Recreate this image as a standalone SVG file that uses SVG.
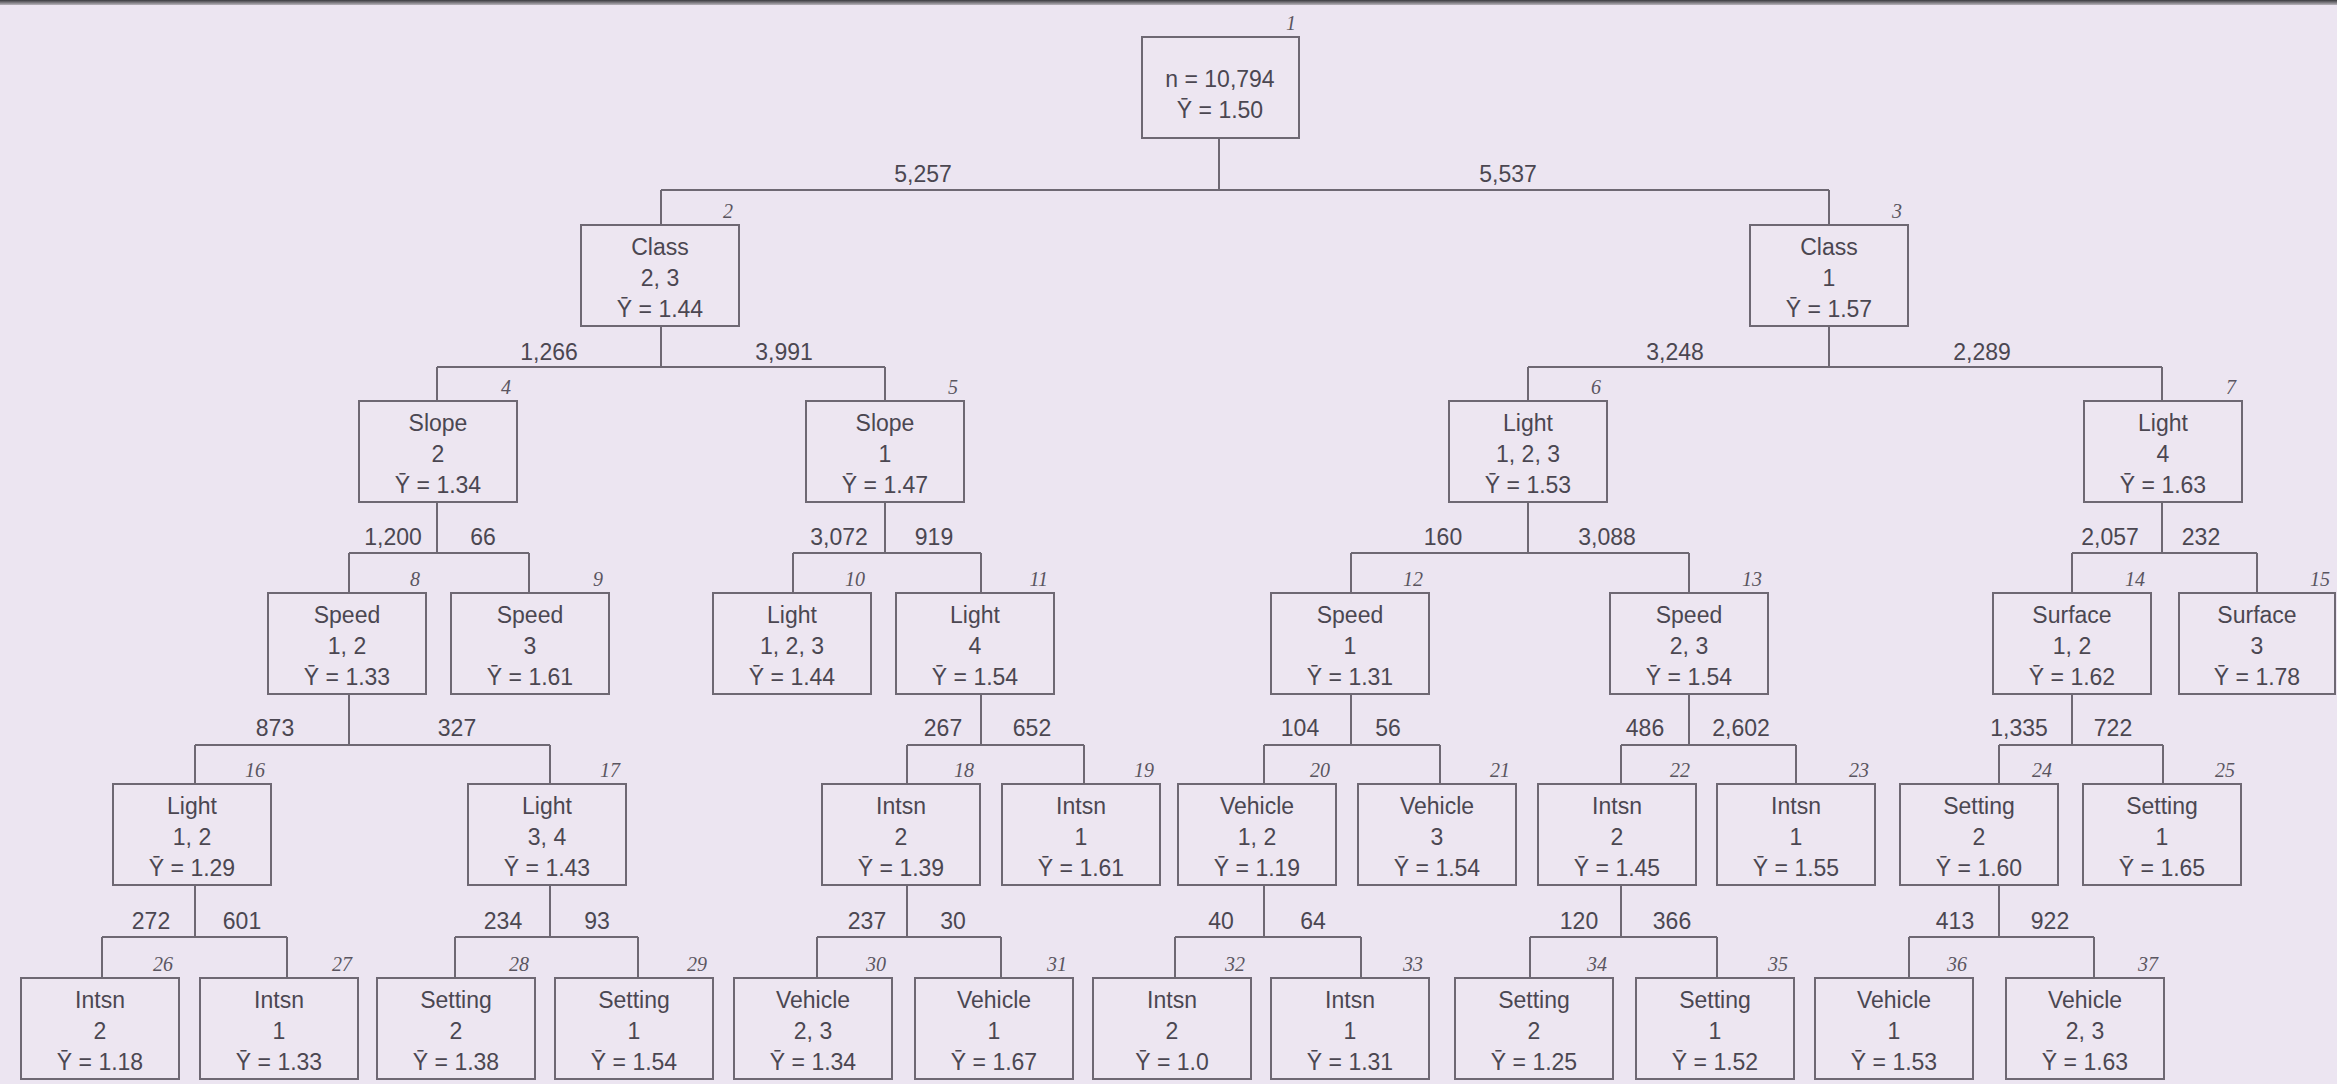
<svg xmlns="http://www.w3.org/2000/svg" width="2337" height="1084" viewBox="0 0 2337 1084">
<defs>
<style>
.bg{fill:#ece5f1}
.box{fill:#ede6f1;stroke:#6e6873;stroke-width:2}
.t{font-family:"Liberation Sans","DejaVu Sans",sans-serif;font-size:23px;fill:#4b4751;text-anchor:middle}
.num{font-family:"Liberation Serif","DejaVu Serif",serif;font-style:italic;font-size:20px;fill:#5a5560;text-anchor:end}
.lbl{font-family:"Liberation Sans","DejaVu Sans",sans-serif;font-size:23px;fill:#4b4751;text-anchor:middle}
.ln{fill:none;stroke:#6e6873;stroke-width:2}
</style>
<linearGradient id="topband" x1="0" y1="0" x2="0" y2="1">
<stop offset="0" stop-color="#3a3a3e"/>
<stop offset="1" stop-color="#b8b4bb"/>
</linearGradient>
</defs>
<rect class="bg" x="0" y="0" width="2337" height="1084"/>
<rect x="0" y="0" width="2337" height="5" fill="url(#topband)"/>

<g id="connectors">
<path class="ln" d="M1219,138V190M661,190H1829M661,190V225M1829,190V225"/>
<path class="ln" d="M661,326V367M437,367H885M437,367V401M885,367V401"/>
<path class="ln" d="M1829,326V367M1528,367H2162M1528,367V401M2162,367V401"/>
<path class="ln" d="M437,502V553M349,553H529M349,553V593M529,553V593"/>
<path class="ln" d="M885,502V553M793,553H981M793,553V593M981,553V593"/>
<path class="ln" d="M1528,502V553M1351,553H1689M1351,553V593M1689,553V593"/>
<path class="ln" d="M2162,502V553M2072,553H2257M2072,553V593M2257,553V593"/>
<path class="ln" d="M349,694V745M195,745H550M195,745V784M550,745V784"/>
<path class="ln" d="M981,694V745M907,745H1084M907,745V784M1084,745V784"/>
<path class="ln" d="M1351,694V745M1264,745H1440M1264,745V784M1440,745V784"/>
<path class="ln" d="M1689,694V745M1621,745H1796M1621,745V784M1796,745V784"/>
<path class="ln" d="M2072,694V745M1999,745H2163M1999,745V784M2163,745V784"/>
<path class="ln" d="M195,885V937M102,937H287M102,937V978M287,937V978"/>
<path class="ln" d="M550,885V937M455,937H638M455,937V978M638,937V978"/>
<path class="ln" d="M907,885V937M817,937H1001M817,937V978M1001,937V978"/>
<path class="ln" d="M1264,885V937M1175,937H1361M1175,937V978M1361,937V978"/>
<path class="ln" d="M1621,885V937M1530,937H1717M1530,937V978M1717,937V978"/>
<path class="ln" d="M1999,885V937M1909,937H2094M1909,937V978M2094,937V978"/>
<g id="branch-labels">
<text class="lbl" x="923" y="182">5,257</text>
<text class="lbl" x="1508" y="182">5,537</text>
<text class="lbl" x="549" y="360">1,266</text>
<text class="lbl" x="784" y="360">3,991</text>
<text class="lbl" x="1675" y="360">3,248</text>
<text class="lbl" x="1982" y="360">2,289</text>
<text class="lbl" x="393" y="545">1,200</text>
<text class="lbl" x="483" y="545">66</text>
<text class="lbl" x="839" y="545">3,072</text>
<text class="lbl" x="934" y="545">919</text>
<text class="lbl" x="1443" y="545">160</text>
<text class="lbl" x="1607" y="545">3,088</text>
<text class="lbl" x="2110" y="545">2,057</text>
<text class="lbl" x="2201" y="545">232</text>
<text class="lbl" x="275" y="736">873</text>
<text class="lbl" x="457" y="736">327</text>
<text class="lbl" x="943" y="736">267</text>
<text class="lbl" x="1032" y="736">652</text>
<text class="lbl" x="1300" y="736">104</text>
<text class="lbl" x="1388" y="736">56</text>
<text class="lbl" x="1645" y="736">486</text>
<text class="lbl" x="1741" y="736">2,602</text>
<text class="lbl" x="2019" y="736">1,335</text>
<text class="lbl" x="2113" y="736">722</text>
<text class="lbl" x="151" y="929">272</text>
<text class="lbl" x="242" y="929">601</text>
<text class="lbl" x="503" y="929">234</text>
<text class="lbl" x="597" y="929">93</text>
<text class="lbl" x="867" y="929">237</text>
<text class="lbl" x="953" y="929">30</text>
<text class="lbl" x="1221" y="929">40</text>
<text class="lbl" x="1313" y="929">64</text>
<text class="lbl" x="1579" y="929">120</text>
<text class="lbl" x="1672" y="929">366</text>
<text class="lbl" x="1955" y="929">413</text>
<text class="lbl" x="2050" y="929">922</text>
</g>
</g>

<g id="node1"><rect class="box" x="1142" y="37" width="157" height="101"/><text class="num" x="1296" y="30">1</text><text class="t" x="1220" y="87">n = 10,794</text><text class="t" x="1220" y="118">Ȳ = 1.50</text></g>

<g id="node2"><rect class="box" x="581" y="225" width="158" height="101"/><text class="num" x="733" y="218">2</text><text class="t" x="660" y="255">Class</text><text class="t" x="660" y="286">2, 3</text><text class="t" x="660" y="317">Ȳ = 1.44</text></g>
<g id="node3"><rect class="box" x="1750" y="225" width="158" height="101"/><text class="num" x="1902" y="218">3</text><text class="t" x="1829" y="255">Class</text><text class="t" x="1829" y="286">1</text><text class="t" x="1829" y="317">Ȳ = 1.57</text></g>

<g id="node4"><rect class="box" x="359" y="401" width="158" height="101"/><text class="num" x="511" y="394">4</text><text class="t" x="438" y="431">Slope</text><text class="t" x="438" y="462">2</text><text class="t" x="438" y="493">Ȳ = 1.34</text></g>
<g id="node5"><rect class="box" x="806" y="401" width="158" height="101"/><text class="num" x="958" y="394">5</text><text class="t" x="885" y="431">Slope</text><text class="t" x="885" y="462">1</text><text class="t" x="885" y="493">Ȳ = 1.47</text></g>
<g id="node6"><rect class="box" x="1449" y="401" width="158" height="101"/><text class="num" x="1601" y="394">6</text><text class="t" x="1528" y="431">Light</text><text class="t" x="1528" y="462">1, 2, 3</text><text class="t" x="1528" y="493">Ȳ = 1.53</text></g>
<g id="node7"><rect class="box" x="2084" y="401" width="158" height="101"/><text class="num" x="2236" y="394">7</text><text class="t" x="2163" y="431">Light</text><text class="t" x="2163" y="462">4</text><text class="t" x="2163" y="493">Ȳ = 1.63</text></g>

<g id="node8"><rect class="box" x="268" y="593" width="158" height="101"/><text class="num" x="420" y="586">8</text><text class="t" x="347" y="623">Speed</text><text class="t" x="347" y="654">1, 2</text><text class="t" x="347" y="685">Ȳ = 1.33</text></g>
<g id="node9"><rect class="box" x="451" y="593" width="158" height="101"/><text class="num" x="603" y="586">9</text><text class="t" x="530" y="623">Speed</text><text class="t" x="530" y="654">3</text><text class="t" x="530" y="685">Ȳ = 1.61</text></g>
<g id="node10"><rect class="box" x="713" y="593" width="158" height="101"/><text class="num" x="865" y="586">10</text><text class="t" x="792" y="623">Light</text><text class="t" x="792" y="654">1, 2, 3</text><text class="t" x="792" y="685">Ȳ = 1.44</text></g>
<g id="node11"><rect class="box" x="896" y="593" width="158" height="101"/><text class="num" x="1048" y="586">11</text><text class="t" x="975" y="623">Light</text><text class="t" x="975" y="654">4</text><text class="t" x="975" y="685">Ȳ = 1.54</text></g>
<g id="node12"><rect class="box" x="1271" y="593" width="158" height="101"/><text class="num" x="1423" y="586">12</text><text class="t" x="1350" y="623">Speed</text><text class="t" x="1350" y="654">1</text><text class="t" x="1350" y="685">Ȳ = 1.31</text></g>
<g id="node13"><rect class="box" x="1610" y="593" width="158" height="101"/><text class="num" x="1762" y="586">13</text><text class="t" x="1689" y="623">Speed</text><text class="t" x="1689" y="654">2, 3</text><text class="t" x="1689" y="685">Ȳ = 1.54</text></g>
<g id="node14"><rect class="box" x="1993" y="593" width="158" height="101"/><text class="num" x="2145" y="586">14</text><text class="t" x="2072" y="623">Surface</text><text class="t" x="2072" y="654">1, 2</text><text class="t" x="2072" y="685">Ȳ = 1.62</text></g>
<g id="node15"><rect class="box" x="2179" y="593" width="156" height="101"/><text class="num" x="2330" y="586">15</text><text class="t" x="2257" y="623">Surface</text><text class="t" x="2257" y="654">3</text><text class="t" x="2257" y="685">Ȳ = 1.78</text></g>

<g id="node16"><rect class="box" x="113" y="784" width="158" height="101"/><text class="num" x="265" y="777">16</text><text class="t" x="192" y="814">Light</text><text class="t" x="192" y="845">1, 2</text><text class="t" x="192" y="876">Ȳ = 1.29</text></g>
<g id="node17"><rect class="box" x="468" y="784" width="158" height="101"/><text class="num" x="620" y="777">17</text><text class="t" x="547" y="814">Light</text><text class="t" x="547" y="845">3, 4</text><text class="t" x="547" y="876">Ȳ = 1.43</text></g>
<g id="node18"><rect class="box" x="822" y="784" width="158" height="101"/><text class="num" x="974" y="777">18</text><text class="t" x="901" y="814">Intsn</text><text class="t" x="901" y="845">2</text><text class="t" x="901" y="876">Ȳ = 1.39</text></g>
<g id="node19"><rect class="box" x="1002" y="784" width="158" height="101"/><text class="num" x="1154" y="777">19</text><text class="t" x="1081" y="814">Intsn</text><text class="t" x="1081" y="845">1</text><text class="t" x="1081" y="876">Ȳ = 1.61</text></g>
<g id="node20"><rect class="box" x="1178" y="784" width="158" height="101"/><text class="num" x="1330" y="777">20</text><text class="t" x="1257" y="814">Vehicle</text><text class="t" x="1257" y="845">1, 2</text><text class="t" x="1257" y="876">Ȳ = 1.19</text></g>
<g id="node21"><rect class="box" x="1358" y="784" width="158" height="101"/><text class="num" x="1510" y="777">21</text><text class="t" x="1437" y="814">Vehicle</text><text class="t" x="1437" y="845">3</text><text class="t" x="1437" y="876">Ȳ = 1.54</text></g>
<g id="node22"><rect class="box" x="1538" y="784" width="158" height="101"/><text class="num" x="1690" y="777">22</text><text class="t" x="1617" y="814">Intsn</text><text class="t" x="1617" y="845">2</text><text class="t" x="1617" y="876">Ȳ = 1.45</text></g>
<g id="node23"><rect class="box" x="1717" y="784" width="158" height="101"/><text class="num" x="1869" y="777">23</text><text class="t" x="1796" y="814">Intsn</text><text class="t" x="1796" y="845">1</text><text class="t" x="1796" y="876">Ȳ = 1.55</text></g>
<g id="node24"><rect class="box" x="1900" y="784" width="158" height="101"/><text class="num" x="2052" y="777">24</text><text class="t" x="1979" y="814">Setting</text><text class="t" x="1979" y="845">2</text><text class="t" x="1979" y="876">Ȳ = 1.60</text></g>
<g id="node25"><rect class="box" x="2083" y="784" width="158" height="101"/><text class="num" x="2235" y="777">25</text><text class="t" x="2162" y="814">Setting</text><text class="t" x="2162" y="845">1</text><text class="t" x="2162" y="876">Ȳ = 1.65</text></g>

<g id="node26"><rect class="box" x="21" y="978" width="158" height="101"/><text class="num" x="173" y="971">26</text><text class="t" x="100" y="1008">Intsn</text><text class="t" x="100" y="1039">2</text><text class="t" x="100" y="1070">Ȳ = 1.18</text></g>
<g id="node27"><rect class="box" x="200" y="978" width="158" height="101"/><text class="num" x="352" y="971">27</text><text class="t" x="279" y="1008">Intsn</text><text class="t" x="279" y="1039">1</text><text class="t" x="279" y="1070">Ȳ = 1.33</text></g>
<g id="node28"><rect class="box" x="377" y="978" width="158" height="101"/><text class="num" x="529" y="971">28</text><text class="t" x="456" y="1008">Setting</text><text class="t" x="456" y="1039">2</text><text class="t" x="456" y="1070">Ȳ = 1.38</text></g>
<g id="node29"><rect class="box" x="555" y="978" width="158" height="101"/><text class="num" x="707" y="971">29</text><text class="t" x="634" y="1008">Setting</text><text class="t" x="634" y="1039">1</text><text class="t" x="634" y="1070">Ȳ = 1.54</text></g>
<g id="node30"><rect class="box" x="734" y="978" width="158" height="101"/><text class="num" x="886" y="971">30</text><text class="t" x="813" y="1008">Vehicle</text><text class="t" x="813" y="1039">2, 3</text><text class="t" x="813" y="1070">Ȳ = 1.34</text></g>
<g id="node31"><rect class="box" x="915" y="978" width="158" height="101"/><text class="num" x="1067" y="971">31</text><text class="t" x="994" y="1008">Vehicle</text><text class="t" x="994" y="1039">1</text><text class="t" x="994" y="1070">Ȳ = 1.67</text></g>
<g id="node32"><rect class="box" x="1093" y="978" width="158" height="101"/><text class="num" x="1245" y="971">32</text><text class="t" x="1172" y="1008">Intsn</text><text class="t" x="1172" y="1039">2</text><text class="t" x="1172" y="1070">Ȳ = 1.0</text></g>
<g id="node33"><rect class="box" x="1271" y="978" width="158" height="101"/><text class="num" x="1423" y="971">33</text><text class="t" x="1350" y="1008">Intsn</text><text class="t" x="1350" y="1039">1</text><text class="t" x="1350" y="1070">Ȳ = 1.31</text></g>
<g id="node34"><rect class="box" x="1455" y="978" width="158" height="101"/><text class="num" x="1607" y="971">34</text><text class="t" x="1534" y="1008">Setting</text><text class="t" x="1534" y="1039">2</text><text class="t" x="1534" y="1070">Ȳ = 1.25</text></g>
<g id="node35"><rect class="box" x="1636" y="978" width="158" height="101"/><text class="num" x="1788" y="971">35</text><text class="t" x="1715" y="1008">Setting</text><text class="t" x="1715" y="1039">1</text><text class="t" x="1715" y="1070">Ȳ = 1.52</text></g>
<g id="node36"><rect class="box" x="1815" y="978" width="158" height="101"/><text class="num" x="1967" y="971">36</text><text class="t" x="1894" y="1008">Vehicle</text><text class="t" x="1894" y="1039">1</text><text class="t" x="1894" y="1070">Ȳ = 1.53</text></g>
<g id="node37"><rect class="box" x="2006" y="978" width="158" height="101"/><text class="num" x="2158" y="971">37</text><text class="t" x="2085" y="1008">Vehicle</text><text class="t" x="2085" y="1039">2, 3</text><text class="t" x="2085" y="1070">Ȳ = 1.63</text></g>
</svg>
